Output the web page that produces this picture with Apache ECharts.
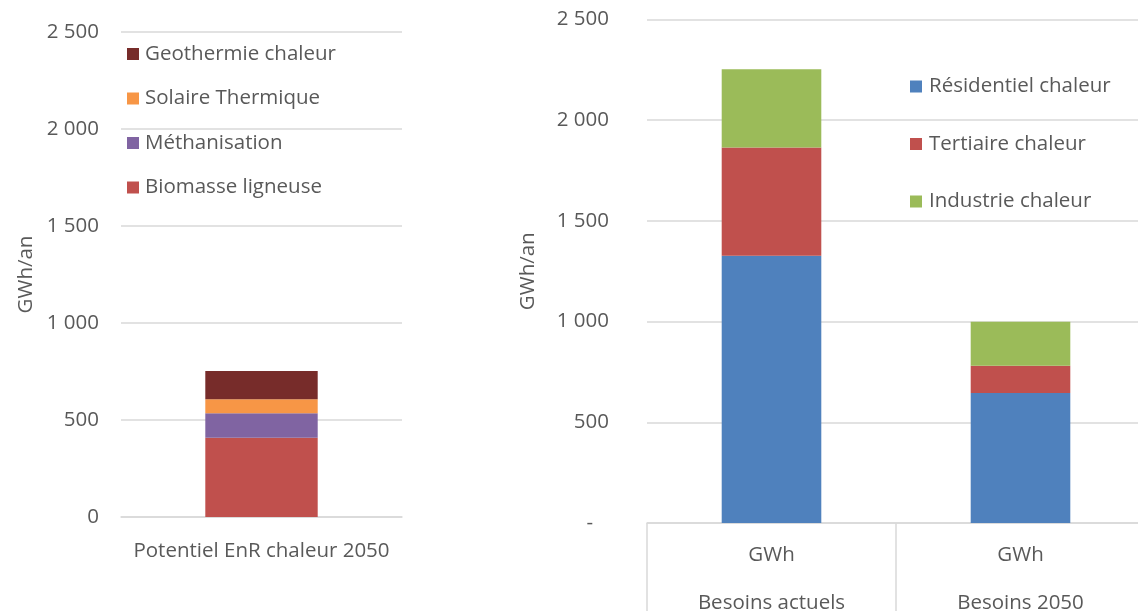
<!DOCTYPE html>
<html>
<head>
<meta charset="utf-8">
<script src="https://cdn.jsdelivr.net/npm/echarts@6/dist/echarts.min.js"></script>
<style>
html,body{margin:0;padding:0;background:#fff;}
#c{width:1138px;height:611px;}
</style>
</head>
<body>
<div id="c"></div>
<script>
// ---- Data ----
const leftCategories = ['Potentiel EnR chaleur 2050'];
const biomasse = [409];
const methanisation = [126];
const solaire = [72];
const geothermie = [146];

const rightCategories = ['GWh\n\nBesoins actuels', 'GWh\n\nBesoins 2050'];
const residentiel = [1327, 645];
const tertiaire = [538, 136];
const industrie = [388, 218];

const yMin = 0, yMax = 2500, yStep = 500;

const txt = '#595959';
const grid = '#d9d9d9';
const font = 'Open Sans';
const fs = 20.5;

function fmt(v) {
  return String(v).replace(/\B(?=(\d{3})+(?!\d))/g, ' ');
}

const chart = echarts.init(document.getElementById('c'));
chart.setOption({
  animation: false,
  textStyle: { fontFamily: font, color: txt },
  grid: [
    { left: 121, width: 281, top: 32, bottom: 94, outerBoundsMode: 'none', containLabel: false },
    { left: 647, width: 498, top: 19.5, bottom: 88, outerBoundsMode: 'none', containLabel: false }
  ],
  legend: [
    {
      orient: 'vertical', left: 122, top: 38, itemWidth: 12, itemHeight: 12, itemGap: 22.5,
      textStyle: { fontFamily: font, fontSize: fs, color: txt, lineHeight: 22, padding: [0, 0, 0, 1] },
      data: ['Geothermie chaleur', 'Solaire Thermique', 'Méthanisation', 'Biomasse ligneuse'],
      icon: 'rect'
    },
    {
      orient: 'vertical', left: 905, top: 70.5, itemWidth: 12, itemHeight: 12, itemGap: 35.5,
      textStyle: { fontFamily: font, fontSize: fs, color: txt, lineHeight: 22, padding: [0, 0, 0, 2] },
      data: ['Résidentiel chaleur', 'Tertiaire chaleur', 'Industrie chaleur'],
      icon: 'rect'
    }
  ],
  xAxis: [
    {
      type: 'category', gridIndex: 0, data: leftCategories,
      axisLine: { lineStyle: { color: grid, width: 1.5 } },
      axisTick: { show: false },
      axisLabel: { color: txt, fontSize: fs, margin: 24, fontFamily: font }
    },
    {
      type: 'category', gridIndex: 1, data: rightCategories,
      axisLine: { lineStyle: { color: grid, width: 1.5 } },
      axisTick: { show: true, length: 90, interval: 0, lineStyle: { color: grid, width: 1.5 } },
      axisLabel: { color: txt, fontSize: fs, margin: 20, lineHeight: 24, fontFamily: font, interval: 0 }
    }
  ],
  yAxis: [
    {
      type: 'value', gridIndex: 0, min: yMin, max: yMax, interval: yStep,
      name: 'GWh/an', nameLocation: 'middle', nameGap: 84, nameRotate: 90,
      nameTextStyle: { color: txt, fontSize: fs, fontFamily: font },
      axisLine: { show: false }, axisTick: { show: false },
      splitLine: { lineStyle: { color: grid, width: 1.5 } },
      axisLabel: { color: txt, fontSize: fs, margin: 22, fontFamily: font, formatter: fmt }
    },
    {
      type: 'value', gridIndex: 1, min: yMin, max: yMax, interval: yStep,
      name: 'GWh/an', nameLocation: 'middle', nameGap: 108, nameRotate: 90,
      nameTextStyle: { color: txt, fontSize: fs, fontFamily: font },
      axisLine: { show: false }, axisTick: { show: false },
      splitLine: { lineStyle: { color: grid, width: 1.5 } },
      axisLabel: {
        color: txt, fontSize: fs, margin: 38, fontFamily: font,
        formatter: v => v === 0 ? '{d|-}' : fmt(v),
        rich: { d: { color: txt, fontSize: fs, fontFamily: font, padding: [0, 16, 0, 0] } }
      }
    }
  ],
  series: [
    { name: 'Biomasse ligneuse', type: 'bar', stack: 'L', xAxisIndex: 0, yAxisIndex: 0, barWidth: '40%', data: biomasse, itemStyle: { color: '#C0504D' } },
    { name: 'Méthanisation', type: 'bar', stack: 'L', xAxisIndex: 0, yAxisIndex: 0, barWidth: '40%', data: methanisation, itemStyle: { color: '#8064A2' } },
    { name: 'Solaire Thermique', type: 'bar', stack: 'L', xAxisIndex: 0, yAxisIndex: 0, barWidth: '40%', data: solaire, itemStyle: { color: '#F79646' } },
    { name: 'Geothermie chaleur', type: 'bar', stack: 'L', xAxisIndex: 0, yAxisIndex: 0, barWidth: '40%', data: geothermie, itemStyle: { color: '#772C2A' } },
    { name: 'Résidentiel chaleur', type: 'bar', stack: 'R', xAxisIndex: 1, yAxisIndex: 1, barWidth: '40%', data: residentiel, itemStyle: { color: '#4F81BD' } },
    { name: 'Tertiaire chaleur', type: 'bar', stack: 'R', xAxisIndex: 1, yAxisIndex: 1, barWidth: '40%', data: tertiaire, itemStyle: { color: '#C0504D' } },
    { name: 'Industrie chaleur', type: 'bar', stack: 'R', xAxisIndex: 1, yAxisIndex: 1, barWidth: '40%', data: industrie, itemStyle: { color: '#9BBB59' } }
  ]
});
</script>
</body>
</html>
